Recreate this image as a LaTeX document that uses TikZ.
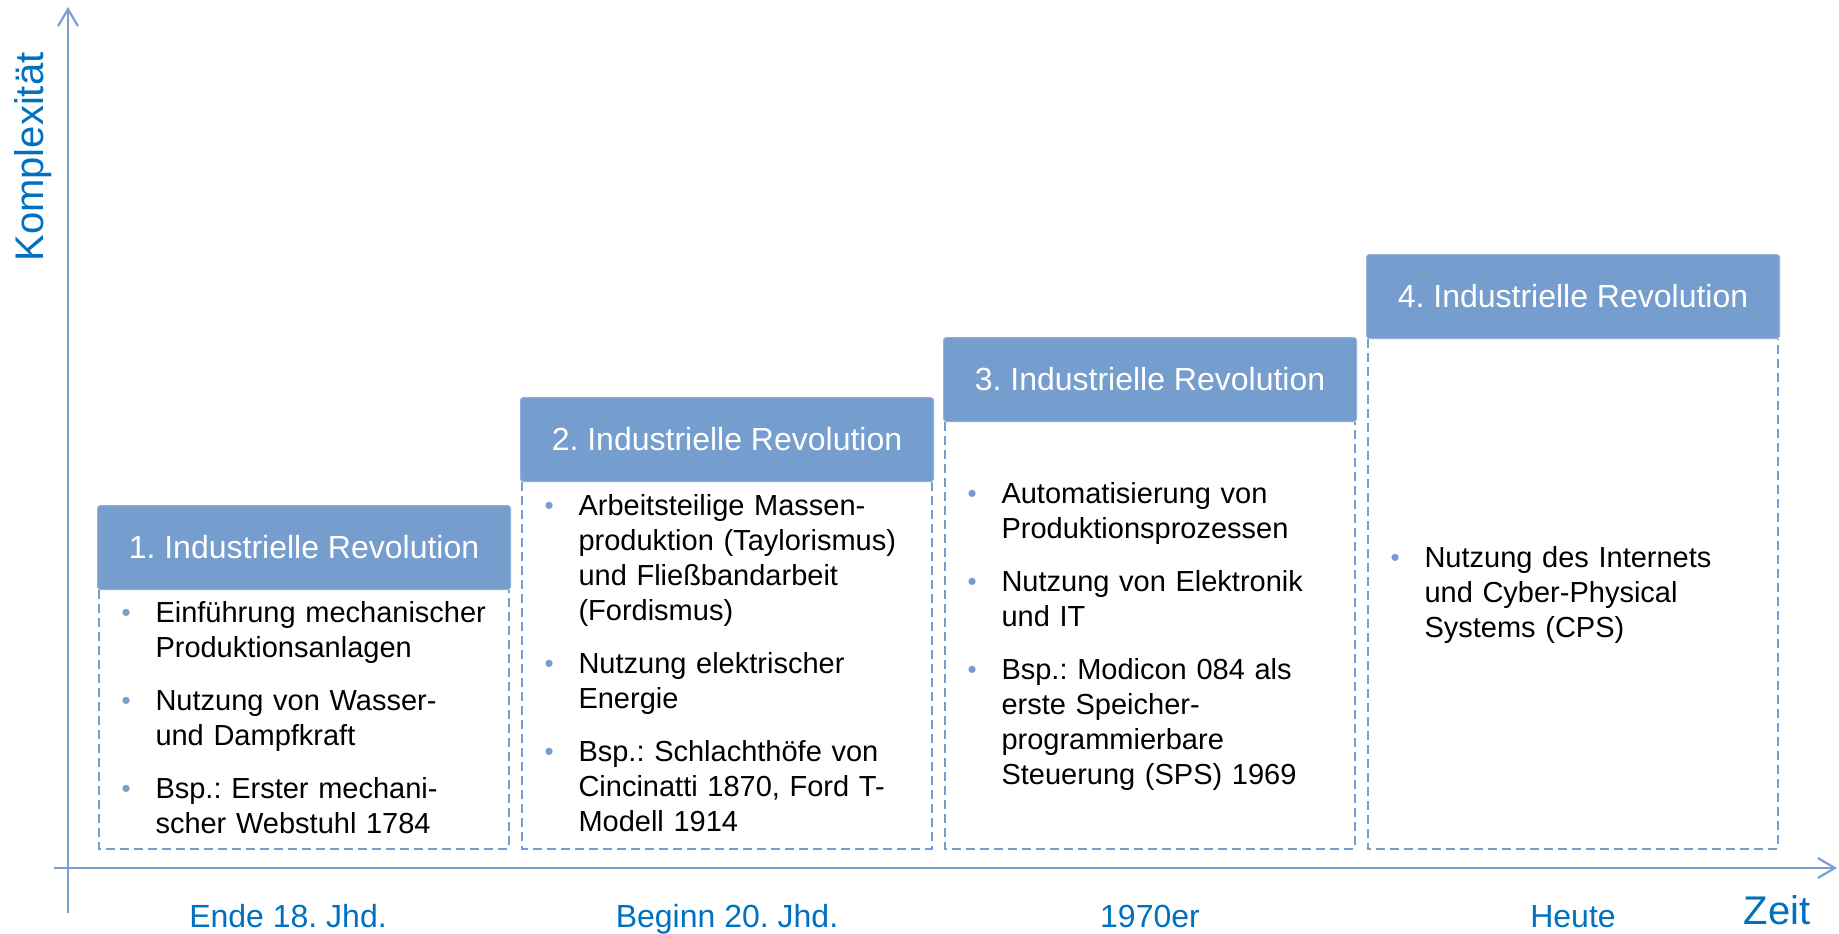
\documentclass[tikz,border=0pt]{standalone}
\usepackage{fontspec}
\setmainfont{Liberation Sans}
\usepackage{xcolor}
\usetikzlibrary{arrows.meta,positioning}
\frenchspacing

\definecolor{kasten}{RGB}{117,157,205}
\definecolor{achsblau}{RGB}{122,159,208}
\definecolor{schrift}{RGB}{0,112,192}

\newlength{\punktein}
\setlength{\punktein}{17pt}
\newcommand{\punkt}[1]{\par\begingroup\def\\{\hfil\break}%
  \noindent\hangindent=\punktein\hangafter=1
  \makebox[\punktein][l]{\textcolor{kasten}{\raisebox{0.5pt}{\fontsize{13pt}{13pt}\selectfont •}}}\strut#1\strut\par\endgroup}
\newcommand{\zwischen}{\vspace{9pt}}

\begin{document}
\begin{tikzpicture}[x=0.5pt, y=-0.5pt, >={Straight Barb[length=8.5pt,width=10pt]},
    kopf/.style={rectangle, fill=kasten, draw=kasten!80!white, line width=0.5pt,
        rounded corners=1.5pt, text=white, minimum width=206.5pt, minimum height=42pt,
        inner sep=0pt, font=\fontsize{16pt}{19pt}\selectfont},
    rumpf/.style={rectangle, minimum width=204.5pt, inner sep=0pt},
    liste/.style={anchor=west, xshift=11pt, yshift=2pt, text width=182.5pt, inner sep=0pt,
        font=\fontsize{14.5pt}{17.5pt}\selectfont},
    rand/.style={draw=kasten, line width=1pt, dash pattern=on 4.5pt off 2.5pt},
    achse/.style={draw=achsblau, line width=1.1pt},
    zeitpunkt/.style={anchor=base, text=schrift, font=\fontsize{16pt}{19pt}\selectfont}]
    \useasboundingbox (0,0) rectangle (1839,933);

    % axes
    \coordinate (yfuss) at (68,913);
    \coordinate (yspitze) at (68,7);
    \coordinate (xfuss) at (54,868);
    \coordinate (xspitze) at (1837,868);
    \draw[achse,->] (yfuss) -- (yspitze);
    \draw[achse,->] (xfuss) -- (xspitze);
    \node[rotate=90, anchor=base, text=schrift, font=\fontsize{20pt}{24pt}\selectfont] (komplex) at (43,157) {Komplexität};
    \node[zeitpunkt, font=\fontsize{20pt}{24pt}\selectfont] (zeit) at (1777,924) {Zeit};

    \node[zeitpunkt] (ende) at (288,927) {Ende 18. Jhd.};
    \node[zeitpunkt] (beginn) at (727,927) {Beginn 20. Jhd.};
    \node[zeitpunkt] (siebziger) at (1150,927) {1970er};
    \node[zeitpunkt] (heute) at (1573,927) {Heute};

    % stages
    \node[kopf, anchor=north west] (kopf1) at (97,505) {1. Industrielle Revolution};
    \node[kopf, anchor=north west] (kopf2) at (520,397) {2. Industrielle Revolution};
    \node[kopf, anchor=north west] (kopf3) at (943,337) {3. Industrielle Revolution};
    \node[kopf, anchor=north west] (kopf4) at (1366,254) {4. Industrielle Revolution};

    \node[rumpf, minimum height=129pt, below=0pt of kopf1] (rumpf1) {};
    \node[rumpf, minimum height=183pt, below=0pt of kopf2] (rumpf2) {};
    \node[rumpf, minimum height=213pt, below=0pt of kopf3] (rumpf3) {};
    \node[rumpf, minimum height=254.5pt, below=0pt of kopf4] (rumpf4) {};

    \draw[rand] (rumpf1.north west) -- (rumpf1.south west) -- (rumpf1.south east) -- (rumpf1.north east);
    \draw[rand] (rumpf2.north west) -- (rumpf2.south west) -- (rumpf2.south east) -- (rumpf2.north east);
    \draw[rand] (rumpf3.north west) -- (rumpf3.south west) -- (rumpf3.south east) -- (rumpf3.north east);
    \draw[rand] (rumpf4.north west) -- (rumpf4.south west) -- (rumpf4.south east) -- (rumpf4.north east);

    \node[liste] (liste1) at (rumpf1.west) {%
        \punkt{Einführung mechanischer\\Produktionsanlagen}\zwischen
        \punkt{Nutzung von Wasser-\\und Dampfkraft}\zwischen
        \punkt{Bsp.: Erster mechani-\\scher Webstuhl 1784}};
    \node[liste] (liste2) at (rumpf2.west) {%
        \punkt{Arbeitsteilige Massen-\\produktion (Taylorismus)\\und Fließbandarbeit\\(Fordismus)}\zwischen
        \punkt{Nutzung elektrischer\\Energie}\zwischen
        \punkt{Bsp.: Schlachthöfe von\\Cincinatti 1870, Ford T-\\Modell 1914}};
    \node[liste] (liste3) at (rumpf3.west) {%
        \punkt{Automatisierung von\\Produktionsprozessen}\zwischen
        \punkt{Nutzung von Elektronik\\und IT}\zwischen
        \punkt{Bsp.: Modicon 084 als\\erste Speicher-\\programmierbare\\Steuerung (SPS) 1969}};
    \node[liste] (liste4) at (rumpf4.west) {%
        \punkt{Nutzung des Internets\\und Cyber-Physical\\Systems (CPS)}};
\end{tikzpicture}
\end{document}
